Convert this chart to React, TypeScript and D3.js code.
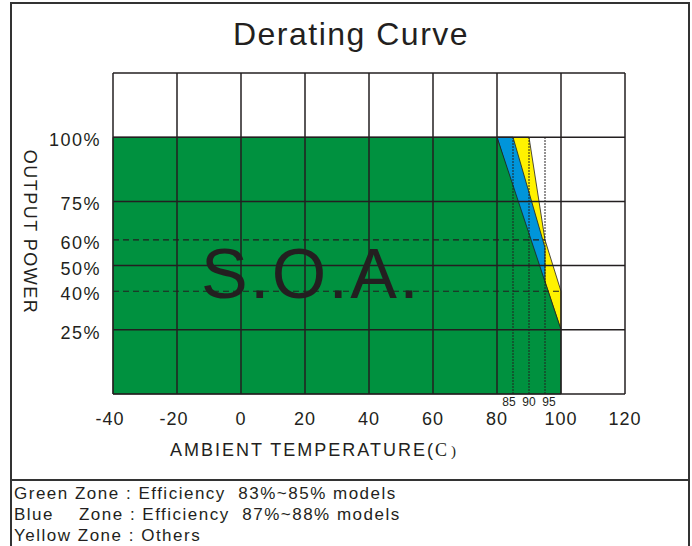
import React from "react";
import * as d3 from "d3";

// ---- data ----
const xTicks = [-40, -20, 0, 20, 40, 60, 80, 100, 120];
const yGridLevels = [0, 25, 50, 75, 100, 125];
const yTickLabels = [100, 75, 60, 50, 40, 25];
const dashedLevels = [60, 40];
const dashedEnds = [95, 100];
const dottedTemps = [85, 90, 95];
const greenZone: [number, number][] = [[-40, 0], [-40, 100], [80, 100], [100, 25], [100, 0]];
const blueZone: [number, number][] = [[80, 100], [85, 100], [95, 57], [95, 40]];
const yellowZone: [number, number][] = [[80, 100], [90, 100], [95, 60], [100, 40], [100, 25]];
const legendLines = [
  "Green Zone : Efficiency  83%~85% models",
  "Blue    Zone : Efficiency  87%~88% models",
  "Yellow Zone : Others",
];

const W = 692;
const H = 546;
const FONT = "'Liberation Sans', Arial, Helvetica, sans-serif";
const INK = "#231f20";

export default function App() {
  const x = d3.scaleLinear().domain([-40, 120]).range([113, 625]);
  const y = d3.scaleLinear().domain([0, 125]).range([394, 73]);
  const line = d3.line<[number, number]>().x((d) => x(d[0])).y((d) => y(d[1]));
  const poly = (pts: [number, number][]) => line(pts) + "Z";

  return (
    <svg
      width={W}
      height={H}
      style={{ position: "absolute", left: 0, top: 0, display: "block", background: "#fff" }}
      fontFamily={FONT}
    >
      {/* outer frame */}
      <rect x={11} y={3} width={678} height={H + 10} fill="none" stroke="#333" strokeWidth={2} />
      <line x1={11} x2={689} y1={480} y2={480} stroke="#333" strokeWidth={2} />

      {/* title */}
      <text x={351} y={45} textAnchor="middle" fontSize={32} letterSpacing={1.5} fill={INK}>
        Derating Curve
      </text>

      {/* zones */}
      <path d={poly(yellowZone)} fill="#fff200" stroke={INK} strokeWidth={0.8} />
      <path d={poly(blueZone)} fill="#0095da" stroke={INK} strokeWidth={0.8} />
      <path d={poly(greenZone)} fill="#00913f" stroke={INK} strokeWidth={0.8} />

      {/* dotted verticals */}
      {dottedTemps.map((t) => (
        <line
          key={"dt" + t}
          x1={x(t)}
          x2={x(t)}
          y1={y(100)}
          y2={y(0)}
          stroke={INK}
          strokeWidth={1.3}
          strokeDasharray="1.5 1.5"
        />
      ))}

      {/* dashed horizontals */}
      {dashedLevels.map((v, i) => (
        <line
          key={"dh" + v}
          x1={x(-40)}
          x2={x(dashedEnds[i])}
          y1={y(v)}
          y2={y(v)}
          stroke={INK}
          strokeWidth={1.1}
          strokeDasharray="6 4"
        />
      ))}

      {/* grid */}
      {xTicks.map((t) => (
        <line key={"gx" + t} x1={x(t)} x2={x(t)} y1={y(125)} y2={y(0)} stroke={INK} strokeWidth={1.5} />
      ))}
      {yGridLevels.map((v) => (
        <line key={"gy" + v} x1={x(-40)} x2={x(120)} y1={y(v)} y2={y(v)} stroke={INK} strokeWidth={1.5} />
      ))}

      {/* S.O.A. */}
      <text x={201} y={298} fontSize={70} letterSpacing={2.3} fill={INK}>
        S.O.A.
      </text>

      {/* y tick labels */}
      {yTickLabels.map((v) => (
        <text key={"yl" + v} x={101} y={y(v) + 9} textAnchor="end" fontSize={18} letterSpacing={1.5} fill={INK}>
          {v}%
        </text>
      ))}

      {/* x tick labels */}
      {xTicks.map((t) => (
        <text key={"xl" + t} x={x(t) - (t < 0 ? 3 : 0)} y={425} textAnchor="middle" fontSize={18} letterSpacing={1} fill={INK}>
          {t}
        </text>
      ))}
      {dottedTemps.map((t) => (
        <text key={"sl" + t} x={x(t) + (t - 90) * 0.8} y={406} textAnchor="middle" fontSize={12} fill={INK}>
          {t}
        </text>
      ))}

      {/* axis titles */}
      <text x={170} y={456} fontSize={18} letterSpacing={2} fill={INK}>
        AMBIENT TEMPERATURE(
        <tspan fontFamily="'Liberation Serif', serif" fontSize={18} letterSpacing={0}>C</tspan>
        <tspan fontFamily="'Liberation Serif', serif" fontSize={15} dx={4} letterSpacing={0}>)</tspan>
      </text>
      <text
        transform="translate(24,232) rotate(90)"
        textAnchor="middle"
        fontSize={18}
        letterSpacing={1.5}
        fill={INK}
      >
        OUTPUT POWER
      </text>

      {/* legend */}
      {legendLines.map((s, i) => (
        <text key={"lg" + i} x={14} y={499 + i * 21} fontSize={17} letterSpacing={1.5} fill={INK} style={{ whiteSpace: "pre" }}>
          {s}
        </text>
      ))}
    </svg>
  );
}
